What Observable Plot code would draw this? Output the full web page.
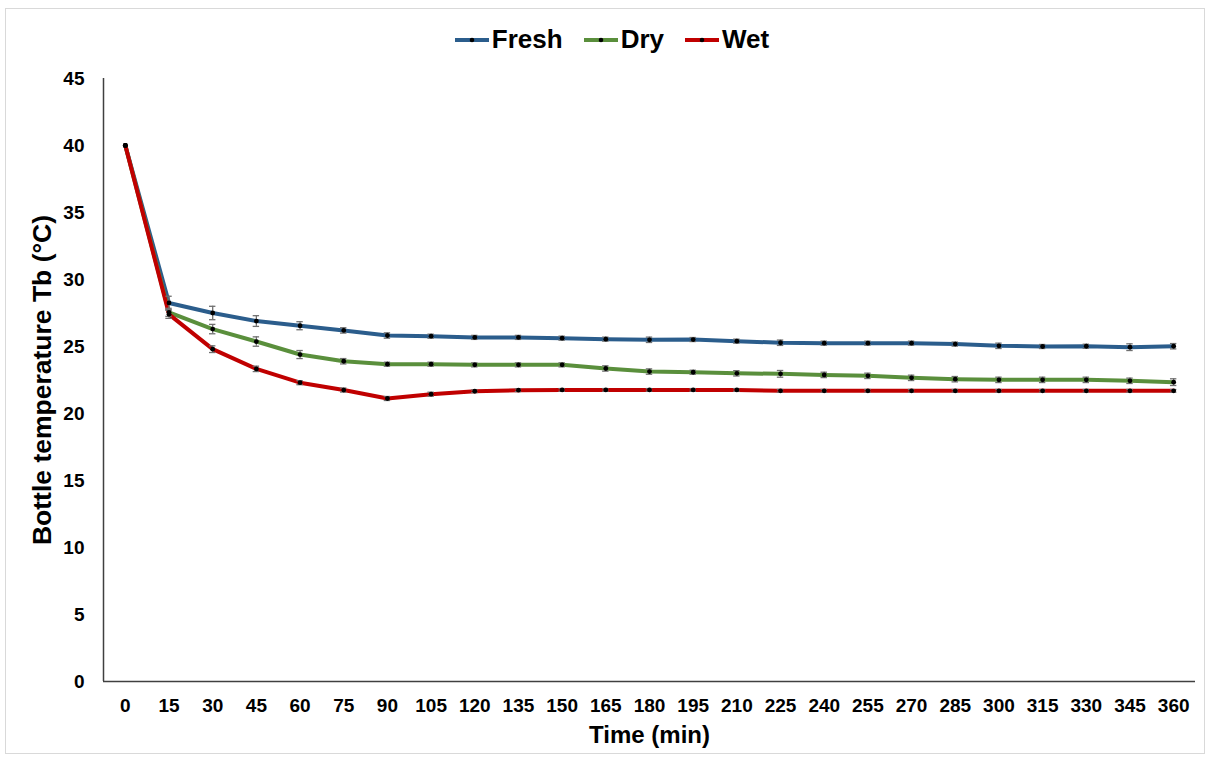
<!DOCTYPE html>
<html>
<head>
<meta charset="utf-8">
<script src="https://cdn.jsdelivr.net/npm/d3@7"></script>
<script src="https://cdn.jsdelivr.net/npm/@observablehq/plot@0.6"></script>
<style>
  html, body { margin: 0; padding: 0; background: #fff; }
  body { width: 1211px; height: 763px; position: relative; overflow: hidden; font-family: "Liberation Sans", Arial, sans-serif; }
  #frame { position: absolute; left: 5px; top: 8px; width: 1200px; height: 746px; border: 1px solid #d9d9d9; box-sizing: border-box; }
  #legend { position: absolute; left: 0; top: 0; width: 1211px; height: 65px; display: flex; justify-content: center; align-items: center; gap: 20px; padding-top: 14px; box-sizing: border-box; padding-left: 12px; }
  .item { display: flex; align-items: center; font-weight: bold; font-size: 26px; color: #000; }
  .item svg { margin-right: 2px; }
  #chart { position: absolute; left: 0; top: 65px; }
</style>
</head>
<body>
<div id="frame"></div>
<div id="legend"></div>
<div id="chart"></div>
<script>
const times = [0,15,30,45,60,75,90,105,120,135,150,165,180,195,210,225,240,255,270,285,300,315,330,345,360];
const seriesNames = ["Fresh", "Dry", "Wet"];
const seriesColors = ["#2B5D8C", "#5A8F3C", "#C00000"];
const fresh = [40, 28.25, 27.5, 26.9, 26.55, 26.2, 25.82, 25.77, 25.68, 25.68, 25.62, 25.55, 25.5, 25.52, 25.4, 25.28, 25.25, 25.25, 25.25, 25.18, 25.05, 25.0, 25.02, 24.95, 25.02];
const dry = [40, 27.55, 26.3, 25.37, 24.4, 23.9, 23.68, 23.68, 23.63, 23.63, 23.63, 23.36, 23.13, 23.08, 23.0, 22.96, 22.88, 22.81, 22.66, 22.56, 22.51, 22.51, 22.51, 22.44, 22.34];
const wet = [40, 27.4, 24.8, 23.33, 22.3, 21.75, 21.12, 21.44, 21.66, 21.74, 21.76, 21.76, 21.76, 21.76, 21.76, 21.69, 21.69, 21.69, 21.69, 21.69, 21.69, 21.69, 21.69, 21.69, 21.69];
const freshErr = [0, 0.5, 0.5, 0.4, 0.3, 0.2, 0.2, 0.15, 0.15, 0.15, 0.15, 0.15, 0.2, 0.15, 0.15, 0.2, 0.15, 0.15, 0.15, 0.15, 0.2, 0.15, 0.15, 0.25, 0.2];
const dryErr = [0, 0.3, 0.35, 0.35, 0.3, 0.2, 0.15, 0.15, 0.15, 0.15, 0.15, 0.2, 0.2, 0.15, 0.2, 0.25, 0.2, 0.2, 0.2, 0.2, 0.2, 0.2, 0.2, 0.2, 0.25];
const wetErr = [0, 0.3, 0.25, 0.2, 0.15, 0.15, 0.15, 0.15, 0.1, 0.1, 0.1, 0.1, 0.1, 0.1, 0.1, 0.1, 0.1, 0.1, 0.1, 0.1, 0.1, 0.1, 0.1, 0.1, 0.1];
const yTicks = [0,5,10,15,20,25,30,35,40,45];
const xLabel = "Time (min)";
const yLabel = "Bottle temperature Tb (°C)";

const values = [fresh, dry, wet];
const errs = [freshErr, dryErr, wetErr];
const rows = [];
seriesNames.forEach((s, i) => {
  times.forEach((t, j) => rows.push({series: s, time: t, value: values[i][j], err: errs[i][j]}));
});
const errRows = rows.filter(d => d.err > 0);
const capHalf = 1.1;

// legend
const legend = document.getElementById("legend");
seriesNames.forEach((s, i) => {
  const div = document.createElement("div");
  div.className = "item";
  div.innerHTML = `<svg width="36" height="10"><line x1="1" x2="35" y1="5" y2="5" stroke="${seriesColors[i]}" stroke-width="4"/><circle cx="18" cy="5" r="2.3" fill="#000"/></svg><span>${s}</span>`;
  legend.appendChild(div);
});

const plot = Plot.plot({
  width: 1211,
  height: 698,
  marginLeft: 103,
  marginRight: 16,
  marginTop: 13,
  marginBottom: 82,
  style: {fontFamily: "'Liberation Sans', Arial, sans-serif", fontWeight: "bold", color: "#000", background: "transparent"},
  x: {domain: [-7.5, 367.5]},
  y: {domain: [0, 45]},
  color: {domain: seriesNames, range: seriesColors},
  marks: [
    Plot.ruleY([0], {stroke: "#404040", strokeWidth: 1.5}),
    Plot.ruleX([-7.5], {stroke: "#404040", strokeWidth: 1.5}),
    Plot.axisX({ticks: times, tickSize: 0, tickPadding: 17, fontSize: 19, fontWeight: "bold", label: null, tickFormat: d => String(d)}),
    Plot.axisY({ticks: yTicks, tickSize: 0, tickPadding: 19, fontSize: 19, fontWeight: "bold", label: null}),
    Plot.text([xLabel], {frameAnchor: "bottom", dy: 61, fontSize: 24, fontWeight: "bold", fill: "#000"}),
    Plot.text([yLabel], {frameAnchor: "left", dx: -61, rotate: -90, textAnchor: "middle", fontSize: 26.5, fontWeight: "bold", fill: "#000"}),
    Plot.line(rows, {x: "time", y: "value", z: "series", stroke: "series", strokeWidth: 4}),
    Plot.ruleX(errRows, {x: "time", y1: d => d.value - d.err, y2: d => d.value + d.err, stroke: "#707070", strokeWidth: 1.3}),
    Plot.ruleY(errRows, {y: d => d.value + d.err, x1: d => d.time - capHalf, x2: d => d.time + capHalf, stroke: "#707070", strokeWidth: 1.3}),
    Plot.ruleY(errRows, {y: d => d.value - d.err, x1: d => d.time - capHalf, x2: d => d.time + capHalf, stroke: "#707070", strokeWidth: 1.3}),
    Plot.dot(rows, {x: "time", y: "value", r: 2.4, fill: "#000", stroke: "none"})
  ]
});
document.getElementById("chart").appendChild(plot);
</script>
</body>
</html>
